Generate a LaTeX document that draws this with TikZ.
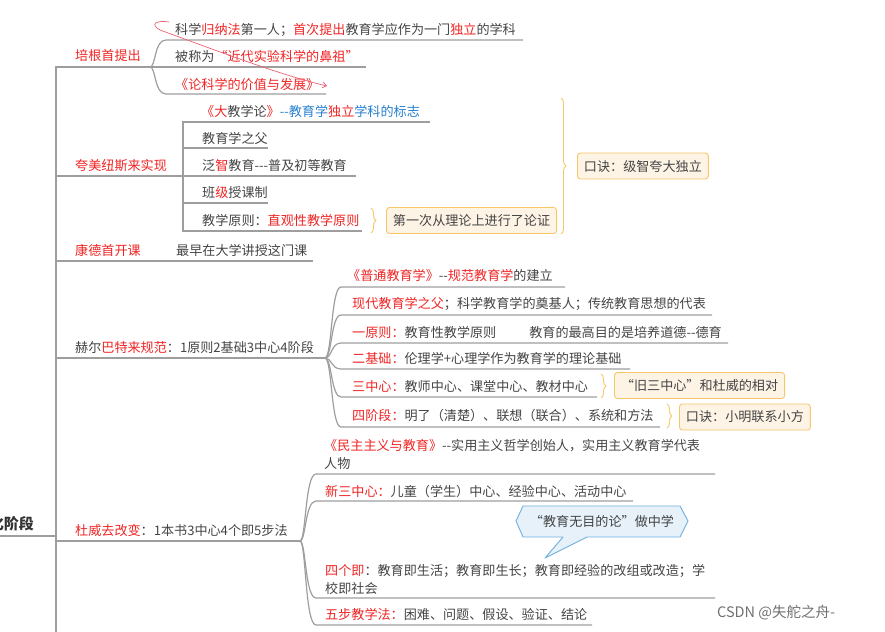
\documentclass[tikz,border=0pt]{standalone}
\usepackage{fontspec}
\setmainfont{Noto Sans CJK SC}
\usetikzlibrary{arrows.meta,decorations.pathreplacing}

\definecolor{ink}{RGB}{68,68,68}
\definecolor{rootink}{RGB}{51,51,51}
\definecolor{hotred}{RGB}{240,36,36}
\definecolor{skyblue}{RGB}{38,128,205}
\definecolor{branchgray}{RGB}{158,158,158}
\definecolor{tipfill}{RGB}{254,244,230}
\definecolor{tipline}{RGB}{246,198,104}
\definecolor{bubblefill}{RGB}{230,241,250}
\definecolor{bubbleline}{RGB}{112,176,222}
\definecolor{penred}{RGB}{236,96,116}
\definecolor{markgray}{RGB}{112,112,112}
\newcommand{\hot}[1]{\textcolor{hotred}{#1}}
\newcommand{\sky}[1]{\textcolor{skyblue}{#1}}
% plain hyphens, no TeX dash ligatures
\newcommand{\twodash}{-\kern0pt-}
\newcommand{\threedash}{-\kern0pt-\kern0pt-}

\begin{document}
\begin{tikzpicture}[x=1pt,y=-1pt,
  every node/.style={inner sep=0pt,text=ink,font=\fontsize{13.1}{18}\selectfont},
  lbl/.style={anchor=base west},
  link/.style={draw=branchgray,line width=1.2pt},
  tipbox/.style={draw=tipline,fill=tipfill,line width=0.9pt,rounded corners=3pt,
    inner xsep=6.5pt,minimum height=26pt,anchor=west},
  curly/.style={draw=tipline,line width=0.9pt,decorate,decoration={brace,amplitude=5pt}}]
  \useasboundingbox (0,0) rectangle (885,631);

  % root and trunk
  \coordinate (rootL) at (0,536);
  \coordinate (root) at (56,536);
  \coordinate (trunkEnd) at (56,640);
  \node[anchor=base east,text=rootink,font=\fontsize{15}{18}\selectfont\bfseries] (stage) at (34,529) {化阶段};
  \draw[link] (rootL) -- (root) -- (trunkEnd);

  % Bacon
  \coordinate (bpBacon) at (150,67);
  \node[lbl,text=hotred] (bacon) at (75,61) {培根首提出};
  \draw[link] (root) |- (bpBacon);
  \node[lbl] (bacon1) at (175,35) {科学\hot{归纳法}第一人；\hot{首次提出}教育学应作为一门\hot{独立}的学科};
  \node[lbl] (bacon2) at (175,62) {被称为\hot{“近代实验科学的鼻祖”}};
  \node[lbl,text=hotred] (bacon3) at (175,90) {《论科学的价值与发展》};
  \coordinate (bacon1s) at (166,40); \coordinate (bacon1e) at (523,40);
  \coordinate (bacon2e) at (366,67);
  \coordinate (bacon3s) at (166,94); \coordinate (bacon3e) at (326,94);
  \draw[link] (bpBacon) .. controls (156,67) and (154,40) .. (bacon1s) -- (bacon1e);
  \draw[link] (bpBacon) -- (bacon2e);
  \draw[link] (bpBacon) .. controls (156,67) and (154,94) .. (bacon3s) -- (bacon3e);
  % hand-drawn mark
  \draw[penred,line width=0.7pt,-{Straight Barb[length=4pt,width=6pt]}]
    (169,22) .. controls (157,20) and (149,24) .. (160,30)
    .. controls (215,50) and (280,75) .. (327,86);

  % Comenius
  \coordinate (bpKomen) at (183,176);
  \node[lbl,text=hotred] (komen) at (75,171) {夸美纽斯来实现};
  \draw[link] (root) |- (bpKomen);
  \node[lbl] (komen1) at (201,117) {\hot{《大}教学论\hot{》}\sky{\twodash 教育学}\hot{独立}\sky{学科的标志}};
  \node[lbl] (komen2) at (202,144) {教育学之父};
  \node[lbl] (komen3) at (202,171) {泛\hot{智}教育\threedash 普及初等教育};
  \node[lbl] (komen4) at (202,197) {班\hot{级}授课制};
  \node[lbl] (komen5) at (202,225) {教学原则：\hot{直观性教学原则}};
  \coordinate (komen1e) at (430,122);
  \coordinate (komen2e) at (268,148);
  \coordinate (komen3e) at (356,176);
  \coordinate (komen4e) at (268,203);
  \coordinate (komen5e) at (362,231);
  \draw[link] (bpKomen) |- (komen1e);
  \draw[link] (bpKomen) |- (komen2e);
  \draw[link] (bpKomen) -- (komen3e);
  \draw[link] (bpKomen) |- (komen4e);
  \draw[link] (bpKomen) |- (komen5e);
  \node[tipbox] (proof) at (386,220.5) {第一次从理论上进行了论证};
  \draw[curly] (371,208) -- (371,233);
  \node[tipbox] (rhyme1) at (577,166) {口诀：级智夸大独立};
  \draw[curly] (561,98) -- (561,234);

  % Kant
  \node[lbl,text=hotred] (kant) at (75,255) {康德首开课};
  \node[lbl] (kant1) at (176,255) {最早在大学讲授这门课};
  \coordinate (kantEnd) at (313,261);
  \draw[link] (root) |- (kantEnd);

  % Herbart
  \coordinate (bpHerb) at (325,358);
  \node[lbl] (herb) at (75,352) {赫尔\hot{巴特来规范}：1原则2基础3中心4阶段};
  \draw[link] (root) |- (bpHerb);
  \node[lbl] (herb1) at (347,280) {\hot{《普通教育学》}\twodash\hot{规范教育学}的建立};
  \node[lbl] (herb2) at (352,308) {\hot{现代教育学之父}；科学教育学的奠基人；传统教育思想的代表};
  \node[lbl] (herb3) at (352,337) {\hot{一原则：}教育性教学原则\hspace{33pt}教育的最高目的是培养道德\twodash 德育};
  \node[lbl] (herb4) at (352,363) {\hot{二基础：}伦理学+心理学作为教育学的理论基础};
  \node[lbl] (herb5) at (352,391) {\hot{三中心：}教师中心、课堂中心、教材中心};
  \node[lbl] (herb6) at (352,420) {\hot{四阶段：}明了（清楚）、联想（联合）、系统和方法};
  \coordinate (herb1s) at (341,287); \coordinate (herb1e) at (565,287);
  \coordinate (herb2s) at (341,315); \coordinate (herb2e) at (712,315);
  \coordinate (herb3s) at (341,343); \coordinate (herb3e) at (728,343);
  \coordinate (herb4s) at (341,369); \coordinate (herb4e) at (630,369);
  \coordinate (herb5s) at (341,397); \coordinate (herb5e) at (597,397);
  \coordinate (herb6s) at (341,427); \coordinate (herb6e) at (660,427);
  \draw[link] (bpHerb) .. controls (332,358) and (331,287) .. (herb1s) -- (herb1e);
  \draw[link] (bpHerb) .. controls (332,358) and (331,315) .. (herb2s) -- (herb2e);
  \draw[link] (bpHerb) .. controls (332,358) and (331,343) .. (herb3s) -- (herb3e);
  \draw[link] (bpHerb) .. controls (332,358) and (331,369) .. (herb4s) -- (herb4e);
  \draw[link] (bpHerb) .. controls (332,358) and (331,397) .. (herb5s) -- (herb5e);
  \draw[link] (bpHerb) .. controls (332,358) and (331,427) .. (herb6s) -- (herb6e);
  \node[tipbox] (oldthree) at (614,385.5) {“旧三中心”和杜威的相对};
  \draw[curly] (601,374) -- (601,398);
  \node[tipbox] (rhyme2) at (679,417) {口诀：小明联系小方};
  \draw[curly] (667,404) -- (667,428);

  % Dewey
  \coordinate (bpDewey) at (300,541);
  \node[lbl] (dewey) at (75,535) {\hot{杜威去改变}：1本书3中心4个即5步法};
  \draw[link] (root) |- (bpDewey);
  \node[anchor=west,align=left] (dewey1) at (324,454) {\hot{《民主主义与教育》}\twodash 实用主义哲学创始人，实用主义教育学代表\\人物};
  \node[lbl] (dewey2) at (325,496) {\hot{新三中心：}儿童（学生）中心、经验中心、活动中心};
  \node[anchor=west,align=left] (dewey3) at (325,579) {\hot{四个即}：教育即生活；教育即生长；教育即经验的改组或改造；学\\校即社会};
  \node[lbl] (dewey4) at (325,619) {\hot{五步教学法：}困难、问题、假设、验证、结论};
  \coordinate (dewey1s) at (316,474); \coordinate (dewey1e) at (715,474);
  \coordinate (dewey2s) at (316,501); \coordinate (dewey2e) at (633,501);
  \coordinate (dewey3s) at (316,598); \coordinate (dewey3e) at (715,598);
  \coordinate (dewey4s) at (316,625); \coordinate (dewey4e) at (592,625);
  \draw[link] (bpDewey) .. controls (306,541) and (305,474) .. (dewey1s) -- (dewey1e);
  \draw[link] (bpDewey) .. controls (306,541) and (305,501) .. (dewey2s) -- (dewey2e);
  \draw[link] (bpDewey) .. controls (306,541) and (305,598) .. (dewey3s) -- (dewey3e);
  \draw[link] (bpDewey) .. controls (306,541) and (305,625) .. (dewey4s) -- (dewey4e);
  % callout
  \coordinate (bubbleTip) at (545,558);
  \draw[draw=bubbleline,fill=bubblefill,line width=0.9pt,line join=round]
    (516,521) -- (523,506) -- (680,506) -- (688,521) -- (680,537) -- (587,537)
    -- (bubbleTip) -- (563,537) -- (523,537) -- cycle;
  \node (bubble) at (602,521.5) {“教育无目的论”做中学};

  % watermark text
  \node[lbl,text=markgray,font=\fontsize{14.5}{16}\selectfont] (mark) at (717,617) {CSDN @失舵之舟-};
\end{tikzpicture}
\end{document}
